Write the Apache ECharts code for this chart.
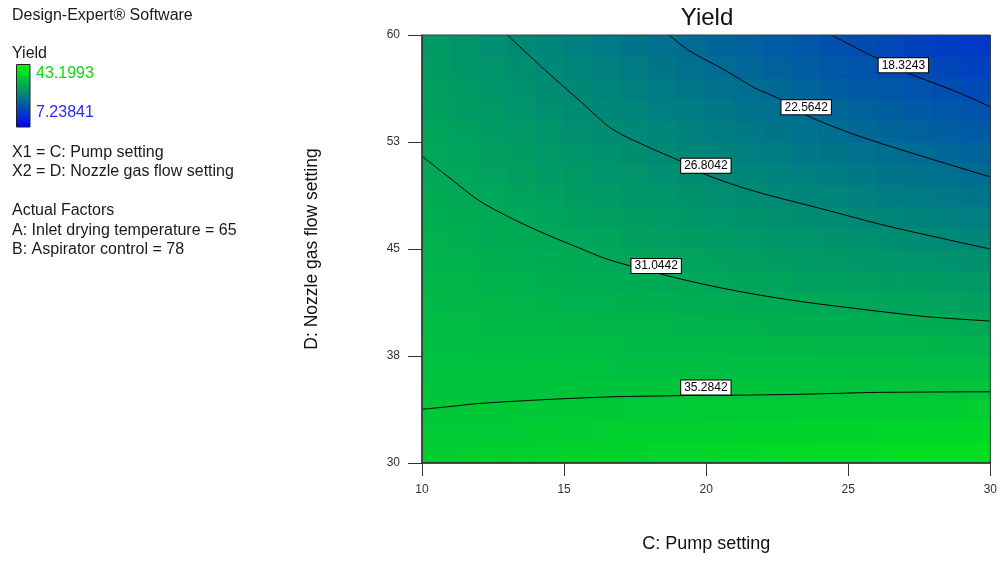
<!DOCTYPE html>
<html>
<head>
<meta charset="utf-8">
<script src="https://cdn.jsdelivr.net/npm/echarts@6/dist/echarts.min.js"></script>
<style>
  html, body { margin: 0; padding: 0; background: #ffffff; }
  #chart { width: 1000px; height: 561px; }
</style>
</head>
<body>
<div id="chart"></div>
<script>
// Response surface: Yield vs C (pump setting) and D (nozzle gas flow setting)

// Cell centres of the shaded surface
const pumpCells = ['10.5','11.5','12.5','13.5','14.5','15.5','16.5','17.5','18.5','19.5',
                   '20.5','21.5','22.5','23.5','24.5','25.5','26.5','27.5','28.5','29.5'];
const nozzleCells = ['30.75','32.25','33.75','35.25','36.75','38.25','39.75','41.25','42.75','44.25',
                     '45.75','47.25','48.75','50.25','51.75','53.25','54.75','56.25','57.75','59.25'];

// Yield at each cell, one row per nozzle cell (bottom row first)
const yieldGrid = [
  [36.1,36.3,36.4,36.6,36.7,36.8,37.0,37.1,37.3,37.4,37.5,37.7,37.8,38.0,38.1,38.3,38.4,38.5,38.7,38.8],
  [35.7,35.8,35.9,36.0,36.1,36.2,36.3,36.4,36.5,36.6,36.7,36.8,36.9,37.0,37.1,37.2,37.3,37.4,37.5,37.6],
  [35.3,35.4,35.4,35.5,35.5,35.6,35.6,35.7,35.7,35.8,35.8,35.9,35.9,36.0,36.0,36.1,36.1,36.2,36.2,36.3],
  [34.9,34.9,34.9,34.9,34.9,34.9,34.9,34.9,35.0,35.0,35.0,35.0,35.0,35.0,35.0,35.0,35.0,35.0,35.0,35.0],
  [34.5,34.5,34.4,34.4,34.4,34.3,34.3,34.2,34.2,34.2,34.1,34.1,34.0,34.0,34.0,33.9,33.9,33.8,33.8,33.8],
  [34.1,34.0,33.9,33.9,33.8,33.7,33.6,33.5,33.4,33.3,33.3,33.2,33.1,33.0,32.9,32.8,32.7,32.7,32.6,32.5],
  [33.7,33.6,33.5,33.3,33.2,33.1,32.9,32.8,32.7,32.5,32.4,32.3,32.1,32.0,31.9,31.8,31.6,31.5,31.4,31.2],
  [33.3,33.1,33.0,32.8,32.6,32.4,32.3,32.1,31.9,31.7,31.6,31.4,31.2,31.0,30.9,30.7,30.5,30.3,30.1,30.0],
  [32.9,32.7,32.5,32.3,32.0,31.8,31.6,31.4,31.2,30.9,30.7,30.5,30.3,30.0,29.8,29.6,29.4,29.2,28.9,28.7],
  [32.5,32.3,32.0,31.7,31.5,31.2,30.9,30.7,30.4,30.1,29.9,29.6,29.3,29.1,28.8,28.5,28.3,28.0,27.7,27.5],
  [32.2,31.9,31.5,31.2,30.9,30.6,30.3,30.0,29.7,29.4,29.0,28.7,28.4,28.1,27.8,27.5,27.2,26.8,26.5,26.2],
  [31.8,31.4,31.1,30.7,30.4,30.0,29.6,29.3,28.9,28.6,28.2,27.8,27.5,27.1,26.8,26.4,26.1,25.7,25.3,25.0],
  [31.4,31.0,30.6,30.2,29.8,29.4,29.0,28.6,28.2,27.8,27.4,27.0,26.6,26.2,25.8,25.4,24.9,24.5,24.1,23.7],
  [31.0,30.6,30.1,29.7,29.2,28.8,28.3,27.9,27.4,27.0,26.5,26.1,25.6,25.2,24.7,24.3,23.8,23.4,22.9,22.5],
  [30.7,30.2,29.7,29.2,28.7,28.2,27.7,27.2,26.7,26.2,25.7,25.2,24.7,24.2,23.7,23.2,22.7,22.3,21.8,21.3],
  [30.3,29.8,29.2,28.7,28.1,27.6,27.0,26.5,26.0,25.4,24.9,24.3,23.8,23.3,22.7,22.2,21.6,21.1,20.6,20.0],
  [29.9,29.3,28.8,28.2,27.6,27.0,26.4,25.8,25.2,24.7,24.1,23.5,22.9,22.3,21.7,21.1,20.6,20.0,19.4,18.8],
  [29.6,28.9,28.3,27.7,27.0,26.4,25.8,25.2,24.5,23.9,23.3,22.6,22.0,21.4,20.7,20.1,19.5,18.8,18.2,17.6],
  [29.2,28.5,27.9,27.2,26.5,25.8,25.1,24.5,23.8,23.1,22.4,21.8,21.1,20.4,19.7,19.1,18.4,17.7,17.0,16.4],
  [28.9,28.1,27.4,26.7,26.0,25.2,24.5,23.8,23.1,22.4,21.6,20.9,20.2,19.5,18.7,18.0,17.3,16.6,15.9,15.1]
];

// Colour scale range (observed response range)
const yieldMin = 7.23841;
const yieldMax = 43.1993;
const rampColors = ['#0000ff', '#00ff00'];

// Contour levels and their traced paths [C, D]
const contourLevels = [18.3243, 22.5642, 26.8042, 31.0442, 35.2842];
const contour18 = [[24.4,60],[25.6,58.77],[26.4,58.0],[27.0,57.4],[28.75,56.07],[30,54.97]];
const contour22 = [[18.7,60],[19.4,58.9],[20.6,57.6],[21.7,56.3],[22.6,55.5],[23.5,54.4],[25.25,53.0],[27.6,51.5],[30,50.05]];
const contour26 = [[13.0,60],[14.3,57.6],[15.6,55.3],[16.7,53.4],[17.9,52.2],[19.1,51.15],[20.0,50.2],[21.7,49.05],[24.1,47.8],[26.4,46.6],[30,45.0]];
const contour31 = [[10,51.5],[10.9,50.1],[12.0,48.4],[13.2,47.1],[14.4,46.0],[15.5,45.1],[16.5,44.3],[18.2,43.35],[19.75,42.6],[21.5,41.9],[23.4,41.3],[25.8,40.7],[27.8,40.25],[30,39.95]];
const contour35 = [[10,33.77],[10.9,33.94],[12.0,34.17],[14.4,34.45],[16.7,34.64],[18.5,34.70],[20.0,34.75],[21.4,34.76],[23.6,34.83],[26.1,34.95],[30,34.99]];
const contourPaths = [contour18, contour22, contour26, contour31, contour35];
// Where each level's value tag sits on its contour [C, D]
const contourTagAt = [[26.94,57.88],[23.52,54.93],[19.99,50.83],[18.24,43.8],[19.99,35.3]];

// Axis ticks
const pumpTicks = [10, 15, 20, 25, 30];
const nozzleTickLabels = ['30', '38', '45', '53', '60'];

// Side notes
const softwareNote = 'Design-Expert\u00AE Software';
const responseName = 'Yield';
const factorNotes = ['X1 = C: Pump setting', 'X2 = D: Nozzle gas flow setting'];
const actualFactorsTitle = 'Actual Factors';
const actualFactors = ['A: Inlet drying temperature = 65', 'B: Aspirator control = 78'];

const FONT = '"Liberation Sans", Arial, sans-serif';

const cellData = [];
yieldGrid.forEach((row, j) => row.forEach((v, i) => cellData.push([i, j, v])));

const chart = echarts.init(document.getElementById('chart'), null, { renderer: 'canvas' });

// Each surface cell is a filled rectangle sized from the category bands;
// a small overlap hides anti-aliasing seams between neighbours.
function renderCell(params, api) {
  const centre = api.coord([api.value(0), api.value(1)]);
  const size = api.size([1, 1]);
  return {
    type: 'rect',
    shape: {
      x: centre[0] - size[0] / 2 - 0.5,
      y: centre[1] - size[1] / 2 - 0.5,
      width: size[0] + 1,
      height: size[1] + 1
    },
    style: { fill: api.visual('color') }
  };
}

const lineSeries = contourPaths.map((path, k) => ({
  type: 'line',
  name: String(contourLevels[k]),
  xAxisIndex: 1,
  yAxisIndex: 1,
  data: path,
  showSymbol: false,
  symbol: 'none',
  smooth: 0.3,
  silent: true,
  z: 3,
  lineStyle: { color: '#000000', width: 1 }
}));

const noteText = (x, y, text, size, color) => ({
  type: 'text', x: x, y: y, silent: true,
  style: { text: text, font: size + 'px ' + FONT, fill: color || '#1a1a1a', align: 'left', verticalAlign: 'middle' }
});

chart.setOption({
  animation: false,
  backgroundColor: '#ffffff',
  grid: {
    left: 422, top: 35, width: 570, height: 428,
    show: true, z: 10, backgroundColor: 'transparent',
    borderColor: '#3a3a3a', borderWidth: 1
  },
  xAxis: [
    { type: 'category', data: pumpCells, show: false, position: 'top' },
    {
      type: 'value', position: 'bottom', min: 10, max: 30, interval: 5, z: 10,
      axisLine: { show: true, onZero: false, lineStyle: { color: '#333', width: 1.5 } },
      axisTick: { show: true, inside: false, length: 13, lineStyle: { color: '#333' } },
      axisLabel: {
        margin: 21, fontSize: 12, color: '#333', fontFamily: FONT,
        formatter: v => String(pumpTicks[Math.round((v - 10) / 5)])
      },
      splitLine: { show: false },
      name: 'C: Pump setting', nameLocation: 'middle', nameGap: 72,
      nameTextStyle: { fontSize: 18, color: '#111', fontFamily: FONT }
    }
  ],
  yAxis: [
    { type: 'category', data: nozzleCells, show: false, position: 'right' },
    {
      type: 'value', position: 'left', min: 30, max: 60, interval: 7.5, z: 10,
      axisLine: { show: true, onZero: false, lineStyle: { color: '#333', width: 1.5 } },
      axisTick: { show: true, inside: false, length: 14, lineStyle: { color: '#333' } },
      axisLabel: {
        margin: 22, fontSize: 12, color: '#333', fontFamily: FONT,
        formatter: v => nozzleTickLabels[Math.round((v - 30) / 7.5)]
      },
      splitLine: { show: false },
      name: 'D: Nozzle gas flow setting', nameLocation: 'middle', nameGap: 101, nameRotate: 90,
      nameTextStyle: { fontSize: 17.5, color: '#111', fontFamily: FONT }
    }
  ],
  visualMap: {
    show: false, type: 'continuous', seriesIndex: 0, dimension: 2,
    min: yieldMin, max: yieldMax, inRange: { color: rampColors }
  },
  series: [
    {
      type: 'custom', xAxisIndex: 0, yAxisIndex: 0, data: cellData,
      renderItem: renderCell, clip: true, silent: true, z: 1, progressive: 0,
      encode: { x: 0, y: 1 }
    },
    ...lineSeries,
    {
      type: 'scatter', xAxisIndex: 1, yAxisIndex: 1, silent: true, z: 5,
      symbol: 'rect', symbolSize: 1,
      itemStyle: { color: 'rgba(0,0,0,0)', opacity: 1 },
      data: contourTagAt.map((p, k) => [p[0], p[1], contourLevels[k]]),
      label: {
        show: true, position: 'inside',
        formatter: p => String(p.value[2]),
        fontSize: 12, fontFamily: FONT, color: '#000',
        backgroundColor: '#ffffff', borderColor: '#000', borderWidth: 1,
        padding: [1, 3, 0, 3], lineHeight: 13
      }
    }
  ],
  graphic: [
    {
      type: 'text', x: 707, y: 18, silent: true,
      style: { text: responseName, font: '24px ' + FONT, fill: '#111', align: 'center', verticalAlign: 'middle' }
    },
    noteText(12, 16, softwareNote, 16),
    noteText(12, 54, responseName, 16),
    {
      type: 'rect', silent: true,
      shape: { x: 16.5, y: 64.5, width: 13.5, height: 62.5 },
      style: {
        fill: new echarts.graphic.LinearGradient(0, 0, 0, 1, [
          { offset: 0, color: rampColors[1] },
          { offset: 1, color: rampColors[0] }
        ]),
        stroke: '#222', lineWidth: 1
      }
    },
    noteText(36, 74, String(yieldMax), 16, '#10d810'),
    noteText(36, 113, String(yieldMin), 16, '#2a2aff'),
    noteText(12, 153, factorNotes[0], 16),
    noteText(12, 172, factorNotes[1], 16),
    noteText(12, 211, actualFactorsTitle, 16),
    noteText(12, 231, actualFactors[0], 16),
    noteText(12, 250, actualFactors[1], 16)
  ]
});
</script>
</body>
</html>
